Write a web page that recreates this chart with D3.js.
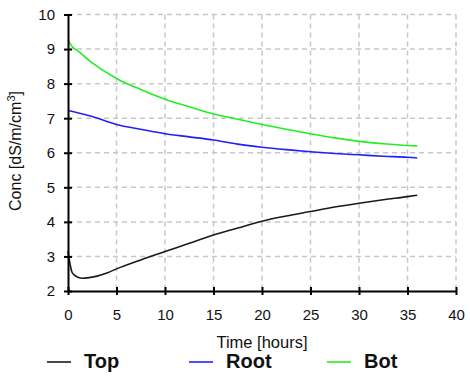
<!DOCTYPE html>
<html><head><meta charset="utf-8">
<script src="https://cdn.jsdelivr.net/npm/d3@7"></script>
<style>body{margin:0;background:#fff}svg{display:block}text{font-family:Arial,"Liberation Sans",sans-serif}</style>
</head><body><svg id="c" width="470" height="378"></svg>
<script>
const xTicks = [0,5,10,15,20,25,30,35,40];
const yTicks = [2,3,4,5,6,7,8,9,10];
const topT = [0,0.2,0.4,0.7,1,1.5,2,3,4,5,7.5,10,12.5,15,17.5,20,22.5,25,27.5,30,32.5,35,36];
const topV = [3.15,2.8,2.55,2.45,2.4,2.37,2.38,2.43,2.52,2.64,2.9,3.14,3.38,3.62,3.82,4.02,4.17,4.3,4.43,4.54,4.64,4.73,4.77];
const rootT = [0,1,2.5,5,7.5,10,12.5,15,17.5,20,22.5,25,27.5,30,32.5,35,36];
const rootV = [7.22,7.16,7.05,6.82,6.68,6.55,6.46,6.37,6.25,6.16,6.09,6.03,5.98,5.94,5.9,5.87,5.85];
const botT = [0,0.5,1,2.5,5,7.5,10,12.5,15,17.5,20,22.5,25,27.5,30,32.5,35,36];
const botV = [9.25,9.05,8.95,8.6,8.15,7.83,7.55,7.33,7.12,6.97,6.82,6.68,6.55,6.43,6.33,6.26,6.21,6.2];
const seriesNames = ["Top","Root","Bot"];
const seriesColors = ["#1a1a1a","#2020ff","#22ee22"];

const svg = d3.select("#c");
const x = d3.scaleLinear().domain([0,40]).range([68,456]);
const y = d3.scaleLinear().domain([2,10]).range([291,14.5]);

const grid = svg.append("g").attr("stroke","#c8c8c8").attr("stroke-width",1.5).attr("stroke-dasharray","5,4");
grid.selectAll(".h").data(yTicks.slice(1)).join("line")
  .attr("x1",x(0)).attr("x2",x(40)).attr("y1",d=>y(d)).attr("y2",d=>y(d));
grid.selectAll(".v").data(xTicks.slice(1)).join("line")
  .attr("x1",d=>x(d)).attr("x2",d=>x(d)).attr("y1",y(10)).attr("y2",y(2));

const series = [[topT,topV],[rootT,rootV],[botT,botV]];
const line = d3.line().x(d=>x(d[0])).y(d=>y(d[1])).curve(d3.curveMonotoneX);
series.forEach((s,i)=>{
  svg.append("path").datum(s[0].map((t,j)=>[t,s[1][j]]))
    .attr("d",line).attr("fill","none").attr("stroke",seriesColors[i]).attr("stroke-width",1.6);
});

const xAxis = svg.append("g").attr("transform",`translate(0,${y(2)})`)
  .call(d3.axisBottom(x).tickValues(xTicks).tickSize(4).tickSizeOuter(0));
xAxis.selectAll(".tick line").attr("y1",-4).attr("y2",4).attr("stroke-width",2);
xAxis.select(".domain").attr("stroke-width",2);
xAxis.selectAll(".tick text").attr("y",18).attr("font-size",15).attr("font-family","Arial").attr("fill","#111");

const yAxis = svg.append("g").attr("transform",`translate(${x(0)},0)`)
  .call(d3.axisLeft(y).tickValues(yTicks).tickSize(4).tickSizeOuter(0));
yAxis.selectAll(".tick line").attr("x1",-4).attr("x2",4).attr("stroke-width",2);
yAxis.select(".domain").attr("stroke-width",2);
yAxis.selectAll(".tick text").attr("x",-13).attr("font-size",15).attr("font-family","Arial").attr("fill","#111");

svg.append("text").attr("x",262).attr("y",348).attr("text-anchor","middle")
  .attr("font-size",16.5).attr("fill","#111").text("Time [hours]");

const yl = svg.append("text").attr("transform","translate(21,151) rotate(-90)")
  .attr("text-anchor","middle").attr("font-size",16).attr("fill","#111");
yl.append("tspan").text("Conc [dS/m/cm");
yl.append("tspan").attr("font-size",11).attr("dy",-6).text("3");
yl.append("tspan").attr("dy",6).text("]");

const legX = [47,189,327];
seriesNames.forEach((n,i)=>{
  svg.append("line").attr("x1",legX[i]).attr("x2",legX[i]+24).attr("y1",362).attr("y2",362)
    .attr("stroke",seriesColors[i]).attr("stroke-width",1.6);
  svg.append("text").attr("x",legX[i]+37).attr("y",368).attr("font-size",20).attr("font-weight","bold")
    .attr("fill","#111").text(n);
});
</script></body></html>
